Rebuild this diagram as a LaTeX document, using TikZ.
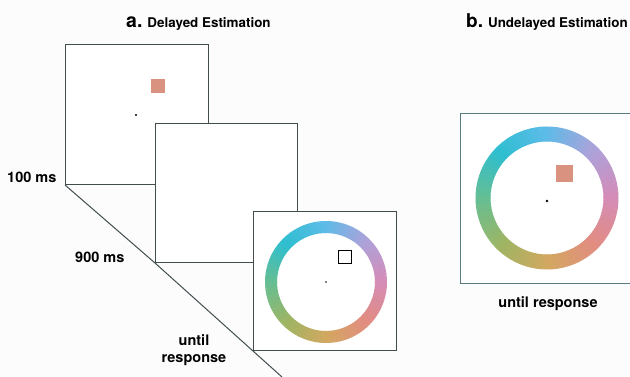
\documentclass[tikz,border=0pt]{standalone}
\usepackage{fontspec}
\setmainfont{TeX Gyre Heros}
\definecolor{bgc}{RGB}{252,252,253}
\definecolor{linec}{RGB}{66,78,78}
\definecolor{lineb}{RGB}{88,122,128}
\definecolor{sqc}{RGB}{218,146,128}
\definecolor{hA}{HTML}{D48CB8}
\definecolor{hB}{HTML}{ACA2DA}
\definecolor{hC}{HTML}{5CBBE8}
\definecolor{hD}{HTML}{2EBED0}
\definecolor{hE}{HTML}{66BE92}
\definecolor{hF}{HTML}{9EB563}
\definecolor{hG}{HTML}{D3A760}
\definecolor{hH}{HTML}{E28C82}
\newcommand{\huering}[4]{% cx, cy, mid radius, width
  \foreach \k/\ca/\cb in {0/hA/hB,1/hB/hC,2/hC/hD,3/hD/hE,4/hE/hF,5/hF/hG,6/hG/hH,7/hH/hA}{
    \foreach \j in {0,...,14}{
      \pgfmathsetmacro{\ang}{\k*45+\j*3}
      \pgfmathtruncatemacro{\pc}{100-\j*100/15}
      \draw[line width=#4pt, color=\ca!\pc!\cb]
        ([shift={(\ang:#3pt)}]#1,#2) arc[start angle=\ang, delta angle=3.5, radius=#3pt];
    }}}
\begin{document}
\begin{tikzpicture}[x=1pt,y=1pt,
  frame/.style={draw=linec, line width=1pt, fill=white, rectangle, outer sep=0pt, inner sep=0pt},
  lab/.style={font=\fontsize{14.5}{17}\selectfont\bfseries, inner sep=0pt},
  ttl/.style={font=\fontsize{13.4}{16}\selectfont\bfseries, inner sep=0pt, anchor=base west},
  dot/.style={circle, fill=black, inner sep=0pt, minimum size=#1pt}]
\fill[bgc] (0,0) rectangle (630,377);
\useasboundingbox (0,0) rectangle (630,377);
\clip (0,0) rectangle (630,377);
% frames of panel a
\node[frame, minimum width=143pt, minimum height=140pt] (f1) at (136.5,262) {};
\coordinate (tend) at (282,0);
\node[frame, minimum width=142pt, minimum height=139pt] (f2) at (226,183.5) {};
\node[frame, minimum width=143pt, minimum height=139pt] (f3) at (324.5,95.5) {};
\draw[linec, line width=1pt] (f1.south west) -- (f2.south west) -- (f3.south west) -- (tend);
% contents frame 1
\node[fill=sqc, minimum size=14pt, inner sep=0pt] (s1) at (158,291) {};
\node[dot=2.4] (d1) at (136,262) {};
% contents frame 3
\huering{326}{95}{55}{12}
\node[draw=black, line width=1.3pt, minimum size=13pt, inner sep=0pt] (s3) at (345,120) {};
\node[dot=1.8] (d3) at (326,95) {};
% panel b
\node[frame, draw=lineb, minimum width=180pt, minimum height=170pt] (fb) at (550,178) {};
\huering{547}{179}{64}{15}
\node[fill=sqc, minimum size=17pt, inner sep=0pt] (sb) at (564.5,203) {};
\node[dot=2.6] (db) at (547,176) {};
% labels
\node[ttl] (ta) at (126,349) {{\fontsize{19.5}{20}\selectfont a.} Delayed Estimation};
\node[ttl] (tb) at (466,349) {{\fontsize{19}{20}\selectfont b.} Undelayed Estimation};
\node[lab, anchor=base west] (l100) at (7,194) {100 ms};
\node[lab, anchor=base west] (l900) at (75,114) {900 ms};
\node[lab, align=center] (lur) at (194,26.5) {until\\response};
\node[lab, anchor=base] (lurb) at (548,69) {until response};
\end{tikzpicture}
\end{document}
